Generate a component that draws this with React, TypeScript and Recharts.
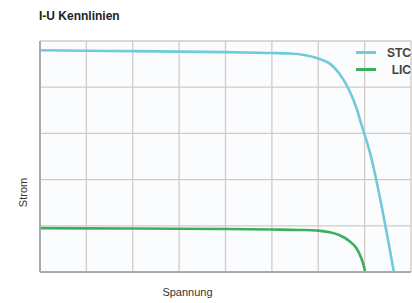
import { LineChart, Line, XAxis, YAxis, CartesianGrid, Legend } from 'recharts';

// I-U Kennlinien: STC and LIC curves, axes are unitless (0..8 x 0..5 grid)
const xTicks = [0, 1, 2, 3, 4, 5, 6, 7, 8];
const yTicks = [0, 1, 2, 3, 4, 5];

const stcVoltage = [0, 1, 2, 3, 4, 5, 5.4, 6, 6.25, 6.45, 6.67, 6.82, 6.95, 7.1, 7.63];
const stcCurrent = [4.8, 4.79, 4.78, 4.77, 4.76, 4.74, 4.73, 4.62, 4.51, 4.3, 3.93, 3.56, 3.13, 2.64, 0];

const licVoltage = [0, 2, 4, 5, 5.6, 6, 6.25, 6.45, 6.67, 6.82, 6.92, 6.99, 7.01];
const licCurrent = [0.95, 0.94, 0.93, 0.92, 0.91, 0.895, 0.86, 0.8, 0.67, 0.52, 0.32, 0.1, 0];

const stcData = stcVoltage.map((u, i) => ({ u, i: stcCurrent[i] }));
const licData = licVoltage.map((u, i) => ({ u, i: licCurrent[i] }));

const seriesOrder = ['STC', 'LIC'];

const FONT = '"Liberation Sans", Arial, sans-serif';
const STC_COLOR = '#6fcadb';
const LIC_COLOR = '#3dae5e';

function LegendBox({ payload }: { payload?: { value: string; color: string }[] }) {
  const items = [...(payload ?? [])].sort((a, b) => seriesOrder.indexOf(a.value) - seriesOrder.indexOf(b.value));
  return (
    <div style={{ fontFamily: FONT }}>
      {items.map((p) => (
        <div key={p.value} style={{ display: 'flex', alignItems: 'center', height: 17 }}>
          <div style={{ width: 20, height: 3, background: p.color, marginRight: 7 }} />
          <div style={{ width: 28, textAlign: 'right', fontSize: 12, fontWeight: 600, color: '#444' }}>
            {p.value}
          </div>
        </div>
      ))}
    </div>
  );
}

function YLabel({ viewBox }: { viewBox?: { x: number; y: number; width: number; height: number } }) {
  const cx = 23;
  const cy = (viewBox?.y ?? 0) + (viewBox?.height ?? 0) / 2 + 36;
  return (
    <text x={cx} y={cy} transform={`rotate(-90 ${cx} ${cy})`} textAnchor="middle" dominantBaseline="central"
      fontSize={11} fill="#333" fontFamily={FONT}>
      Strom
    </text>
  );
}

const noTick = () => <g />;

export default function App() {
  return (
    <div style={{ position: 'absolute', left: 0, top: 0, width: 412, height: 303, background: '#fff' }}>
      <div style={{ position: 'absolute', left: 39, top: 9, fontFamily: FONT, fontWeight: 'bold', fontSize: 12, color: '#222' }}>
        I-U Kennlinien
      </div>
      <LineChart width={412} height={303} margin={{ top: 41, right: 1, left: 0, bottom: 0 }}>
        <CartesianGrid stroke="#d2cac7" fill="#fbfcfe" strokeWidth={1.3} />
        <XAxis
          type="number"
          dataKey="u"
          domain={[0, 8]}
          allowDataOverflow
          ticks={xTicks}
          interval={0}
          tick={noTick}
          tickLine={false}
          height={31}
          axisLine={{ stroke: '#aaa', strokeWidth: 2 }}
          label={{ value: 'Spannung', position: 'insideBottom', offset: 7, dx: -38, fontSize: 11, fill: '#333', fontFamily: FONT }}
        />
        <YAxis
          type="number"
          domain={[0, 5]}
          allowDataOverflow
          ticks={yTicks}
          interval={0}
          tick={noTick}
          tickLine={false}
          width={40}
          axisLine={{ stroke: '#aaa', strokeWidth: 2 }}
          label={<YLabel />}
        />
        <Legend
          verticalAlign="middle"
          align="center"
          layout="vertical"
          content={<LegendBox />}
          wrapperStyle={{ position: 'absolute', top: 44, right: 1, left: 'auto', width: 'auto' }}
        />
        <Line data={stcData} dataKey="i" name="STC" type="monotone" stroke={STC_COLOR} strokeWidth={2.6}
          dot={false} isAnimationActive={false} />
        <Line data={licData} dataKey="i" name="LIC" type="monotone" stroke={LIC_COLOR} strokeWidth={2.6}
          dot={false} isAnimationActive={false} />
      </LineChart>
    </div>
  );
}
